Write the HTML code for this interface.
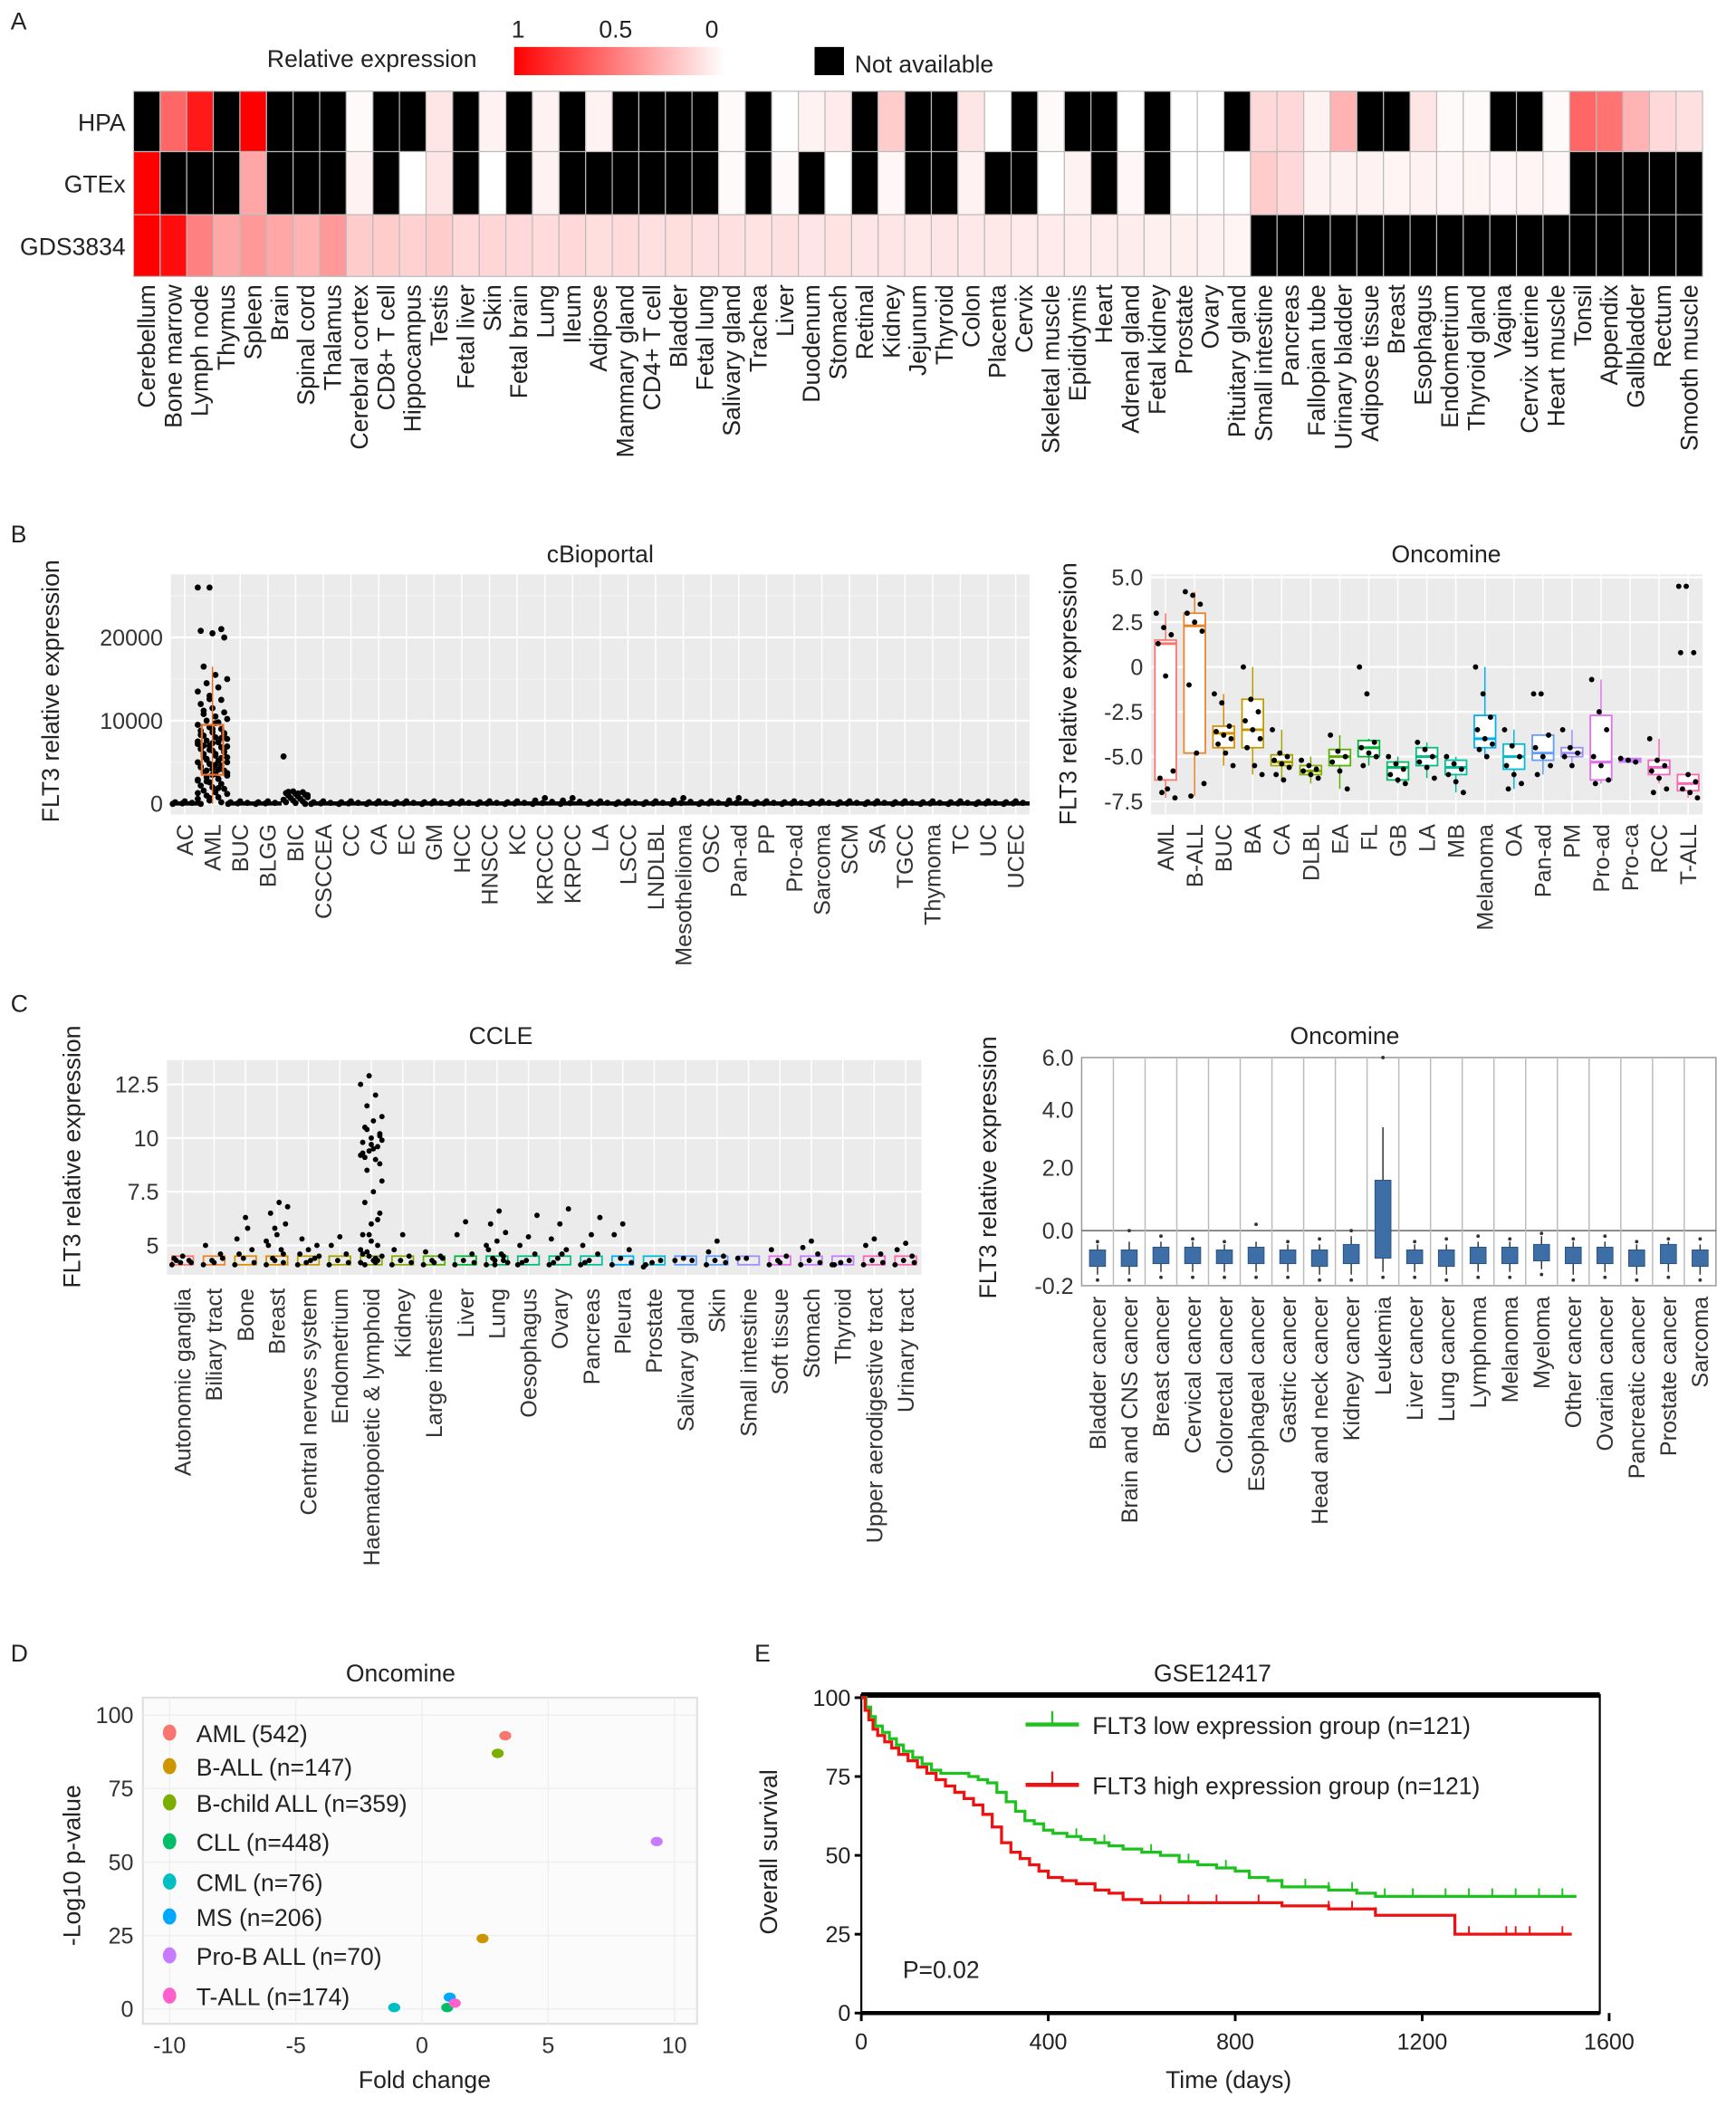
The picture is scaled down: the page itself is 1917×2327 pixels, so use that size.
<!DOCTYPE html>
<html><head><meta charset="utf-8"><style>
html,body{margin:0;padding:0;background:#fff;}
svg{display:block;font-family:"Liberation Sans",Arial,sans-serif;}
</style></head><body>
<svg id="fig" xmlns="http://www.w3.org/2000/svg" width="1917" height="2327" viewBox="0 0 1300 1570" preserveAspectRatio="none">
<defs><linearGradient id="grad" x1="0" x2="1" y1="0" y2="0"><stop offset="0" stop-color="#ff0000"/><stop offset="1" stop-color="#ffffff"/></linearGradient></defs>
<g font-size="18" fill="#222">
<text x="8" y="22">A</text>
<text x="8" y="404">B</text>
<text x="8" y="754">C</text>
<text x="8" y="1238">D</text>
<text x="565" y="1238">E</text>
</g>
<g font-size="18" fill="#222">
<text x="200" y="50">Relative expression</text>
<rect x="385" y="35" width="158" height="21" fill="url(#grad)"/>
<text x="388" y="28" text-anchor="middle">1</text>
<text x="461" y="28" text-anchor="middle">0.5</text>
<text x="533" y="28" text-anchor="middle">0</text>
<rect x="610" y="35" width="22" height="21" fill="#000"/>
<text x="640" y="54">Not available</text>
</g>
<g id="pA"></g><g id="pB1"></g><g id="pB2"></g><g id="pC1"></g><g id="pC2"></g><g id="pD"></g><g id="pE"></g>
</svg>
<script>
// ---------- Panel A data ----------
const tissues=["Cerebellum","Bone marrow","Lymph node","Thymus","Spleen","Brain","Spinal cord","Thalamus","Cerebral cortex","CD8+ T cell","Hippocampus","Testis","Fetal liver","Skin","Fetal brain","Lung","Ileum","Adipose","Mammary gland","CD4+ T cell","Bladder","Fetal lung","Salivary gland","Trachea","Liver","Duodenum","Stomach","Retinal","Kidney","Jejunum","Thyroid","Colon","Placenta","Cervix","Skeletal muscle","Epididymis","Heart","Adrenal gland","Fetal kidney","Prostate","Ovary","Pituitary gland","Small intestine","Pancreas","Fallopian tube","Urinary bladder","Adipose tissue","Breast","Esophagus","Endometrium","Thyroid gland","Vagina","Cervix uterine","Heart muscle","Tonsil","Appendix","Gallbladder","Rectum","Smooth muscle"];
const rowNames=["HPA","GTEx","GDS3834"];
const N=null;
const hpaVals=[N,0.6,0.9,N,1,N,N,N,0.02,N,N,0.1,N,0.05,N,0.05,N,0.05,N,N,N,N,0.02,N,0,0.05,0.08,N,0.2,N,N,0.1,0,N,0.02,N,N,0,N,0,0,N,0.15,0.15,0.05,0.3,N,N,0.1,0.02,0.02,N,N,0.02,0.6,0.55,0.3,0.15,0.12];
const gtexVals=[1,N,N,N,0.35,N,N,N,0.05,N,0,0.1,N,0,N,0.05,N,N,N,N,N,N,0.02,N,0.02,N,0,N,0.03,N,N,0.05,N,N,0,0.05,N,0.03,N,0,0,0,0.2,0.15,0.05,0.05,0.05,0.04,0.05,0.03,0.04,0.03,0.04,0.03,N,N,N,N,N];
const gdsVals=[1,0.95,0.5,0.35,0.4,0.35,0.3,0.4,0.2,0.2,0.18,0.2,0.15,0.16,0.15,0.14,0.15,0.13,0.14,0.12,0.13,0.12,0.12,0.11,0.12,0.1,0.11,0.1,0.1,0.09,0.1,0.09,0.09,0.08,0.08,0.07,0.07,0.07,0.06,0.06,0.05,0.04,N,N,N,N,N,N,N,N,N,N,N,N,N,N,N,N,N];
// ---------- Panel B left (cBioportal) ----------
const cbioCats=["AC","AML","BUC","BLGG","BIC","CSCCEA","CC","CA","EC","GM","HCC","HNSCC","KC","KRCCC","KRPCC","LA","LSCC","LNDLBL","Mesothelioma","OSC","Pan-ad","PP","Pro-ad","Sarcoma","SCM","SA","TGCC","Thymoma","TC","UC","UCEC"];
const cbioTicks=[0,10000,20000];
const cbioAML=[26000,26000,21000,20800,20500,20000,16500,15500,15000,14500,14000,13500,13000,12500,12000,11500,11000,10800,10500,10200,10000,9800,9500,9200,9000,8800,8600,8400,8200,8000,7800,7600,7400,7200,7000,6800,6600,6400,6200,6000,5800,5600,5400,5200,5000,4800,4600,4400,4200,4000,3800,3600,3400,3200,3000,2800,2600,2400,2200,2000,1800,1600,1400,1200,1000,800,600,400,200,0,9000,8000,7000,6000,5000,4000,3000,7500,6500,5500,4500,3500,8500,11200,9700,6900,5300,4100,2900,12600,7900,8300,7300,6300,5700,4700,3700,2700,1900,1300,700];
const cbioBIC=[5700,1500,1400,1300,1200,1100,1000,900,800,700,600,500,400,300,200,100,0,1450,1250,1050];
const cbioOther=[0,60,120,200,300];
const cbioOtherHigh=[0,100,250,400,700];
// ---------- Panel B right (Oncomine) ----------
const oncBCats=["AML","B-ALL","BUC","BA","CA","DLBL","EA","FL","GB","LA","MB","Melanoma","OA","Pan-ad","PM","Pro-ad","Pro-ca","RCC","T-ALL"];
const oncBTicks=[5.0,2.5,0,-2.5,-5.0,-7.5];
const oncBQ1=[-6.3,-4.8,-4.5,-4.5,-5.5,-6.0,-5.5,-5.0,-6.3,-5.5,-6.0,-4.5,-5.7,-5.2,-5.0,-6.3,-5.3,-6.0,-6.9];
const oncBMed=[1.3,2.3,-3.7,-3.5,-5.3,-5.8,-5.0,-4.5,-5.6,-5.0,-5.6,-4.0,-5.0,-4.8,-4.8,-5.3,-5.2,-5.6,-6.5];
const oncBQ3=[1.5,3.0,-3.3,-1.8,-4.9,-5.5,-4.6,-4.1,-5.3,-4.5,-5.2,-2.7,-4.3,-3.8,-4.5,-2.7,-5.1,-5.2,-6.0];
const oncBLo=[-7.3,-7.2,-5.5,-6.0,-6.3,-6.5,-6.8,-5.5,-6.5,-6.2,-7.0,-5.0,-6.8,-6.0,-5.5,-6.5,-5.3,-6.5,-7.3];
const oncBHi=[3.0,4.2,-1.5,0,-3.5,-5.0,-3.8,-4.0,-5.0,-4.2,-5.0,0,-3.5,-3.8,-3.5,-0.7,-5.1,-4.0,-6.0];
const oncBPts=[[3.0,2.2,1.8,1.3,-0.5,-5.8,-6.2,-6.8,-7.3,-7.0],[4.2,4.0,3.5,3.0,2.5,2.0,-1.0,-4.8,-6.5,-7.2],[-1.5,-2.0,-3.3,-3.6,-3.8,-4.0,-4.3,-4.8,-5.5],[0,-1.8,-2.5,-3.0,-3.5,-4.0,-4.5,-5.5,-6.0],[-3.5,-4.8,-5.0,-5.2,-5.4,-5.6,-6.0,-6.3],[-5.2,-5.5,-5.7,-5.8,-6.0,-6.2],[-3.8,-4.7,-5.0,-5.3,-5.8,-6.8],[0,-1.5,-4.2,-4.5,-4.8,-5.0,-5.5],[-5.0,-5.4,-5.7,-6.0,-6.3,-6.5],[-4.2,-4.6,-5.0,-5.3,-5.6,-6.2],[-5.0,-5.4,-5.7,-6.0,-6.4,-7.0],[0,-1.5,-2.8,-3.5,-4.0,-4.3,-4.6,-5.0],[-3.5,-4.4,-5.0,-5.5,-6.0,-6.5,-6.8],[-1.5,-1.5,-3.8,-4.5,-5.0,-5.5,-6.0],[-3.5,-4.5,-4.8,-5.0,-5.5],[-0.7,-2.5,-3.5,-5.0,-5.5,-6.3,-6.5],[-5.1,-5.2,-5.3],[-4.0,-5.2,-5.5,-5.8,-6.2,-6.8,-7.0],[4.5,4.5,0.8,0.8,-6.0,-6.4,-6.8,-7.0,-7.3]];
const hueColors=["#F8766D","#E98429","#D89000","#C29A00","#A7A300","#85AD00","#55B300","#00B838","#00BC63","#00BE83","#00C0A0","#00B0F6","#00BCD3","#619CFF","#9F8CFF","#E46EF3","#C77CFF","#F265C0","#FF65AC"];
// ---------- Panel C left (CCLE) ----------
const ccleCats=["Autonomic  ganglia","Biliary tract","Bone","Breast","Central nerves system","Endometrium","Haematopoietic & lymphoid","Kidney","Large intestine","Liver","Lung","Oesophagus","Ovary","Pancreas","Pleura","Prostate","Salivary gland","Skin","Small intestine","Soft tissue","Stomach","Thyroid","Upper aerodigestive tract","Urinary tract"];
const ccleTicks=[5,7.5,10,12.5];
const cclePts=[[4.1,4.2,4.3,4.4,4.5,4.2,4.3],[4.1,4.3,4.6,5.0,4.2,4.4],[4.1,4.4,4.8,5.3,6.3,4.2,4.6,5.8],[4.1,4.3,4.6,5.0,5.5,6.0,6.5,7.0,6.8,4.4,4.8,5.2,5.8,4.2],[4.1,4.2,4.4,4.6,4.8,5.0,5.3,4.3,4.5],[4.1,4.3,4.6,5.0,5.4,4.2],[4.2,4.5,5.0,5.5,6.0,6.5,7.0,7.5,8.0,8.5,9.0,9.2,9.4,9.6,9.8,10.0,10.2,10.5,10.8,11.0,11.5,12.0,12.5,12.9,4.3,4.6,5.2,8.8,9.1,9.5,9.9,10.4,4.4,4.8,5.5,6.2,9.3,9.7,10.1,4.1,4.3,4.5,4.7,4.2],[4.1,4.3,4.5,4.8,5.5,4.2],[4.1,4.3,4.5,4.7,4.2,4.4],[4.1,4.3,4.6,5.5,6.1,4.2],[4.1,4.3,4.5,4.8,5.2,5.6,6.0,6.6,4.2,4.4,4.6,5.0,4.1,4.3],[4.1,4.3,4.6,5.0,5.4,6.4,4.2],[4.1,4.4,4.8,5.3,6.0,6.7,4.2,4.6],[4.1,4.3,4.6,5.0,5.5,6.3,4.2],[4.1,4.4,4.8,5.5,6.0,4.2],[4.0,4.2,4.3,4.1],[4.3,4.4,4.3],[4.1,4.3,4.5,4.7,5.2,4.2],[4.4,4.4],[4.1,4.3,4.5,4.8,4.2],[4.1,4.3,4.6,4.9,5.2,4.2],[4.1,4.2,4.3,4.1],[4.1,4.3,4.6,5.0,5.3,4.2],[4.1,4.3,4.5,4.8,5.1,4.2]];
// ---------- Panel C right (Oncomine) ----------
const oncCCats=["Bladder cancer","Brain and CNS cancer","Breast cancer","Cervical cancer","Colorectal cancer","Esophageal cancer","Gastric cancer","Head and neck cancer","Kidney cancer","Leukemia","Liver cancer","Lung cancer","Lymphoma","Melanoma","Myeloma","Other cancer","Ovarian cancer","Pancreatic cancer","Prostate cancer","Sarcoma"];
const oncCTicks=[6.0,4.0,2.0,0.0,-0.2];
const oncCQ1=[-0.13,-0.13,-0.12,-0.12,-0.12,-0.12,-0.12,-0.13,-0.12,-0.1,-0.12,-0.13,-0.12,-0.12,-0.11,-0.12,-0.12,-0.13,-0.12,-0.13];
const oncCMed=[-0.1,-0.1,-0.09,-0.09,-0.09,-0.09,-0.1,-0.1,-0.09,0.3,-0.1,-0.1,-0.09,-0.09,-0.08,-0.09,-0.09,-0.1,-0.09,-0.1];
const oncCQ3=[-0.07,-0.07,-0.06,-0.06,-0.07,-0.06,-0.07,-0.07,-0.05,1.6,-0.07,-0.07,-0.06,-0.06,-0.05,-0.06,-0.06,-0.07,-0.05,-0.07];
const oncCLo=[-0.16,-0.16,-0.15,-0.15,-0.15,-0.15,-0.15,-0.16,-0.16,-0.15,-0.15,-0.16,-0.15,-0.15,-0.14,-0.16,-0.15,-0.16,-0.15,-0.16];
const oncCHi=[-0.05,-0.04,-0.04,-0.04,-0.05,-0.04,-0.05,-0.05,-0.02,3.4,-0.05,-0.05,-0.04,-0.04,-0.02,-0.04,-0.04,-0.05,-0.04,-0.05];
const oncCMax=[-0.04,0.0,-0.02,-0.03,-0.04,0.2,-0.04,-0.03,0.0,6.0,-0.04,-0.03,-0.02,-0.03,-0.01,-0.03,-0.02,-0.04,-0.03,-0.03];
// ---------- Panel D ----------
const dNames=["AML (542)","B-ALL (n=147)","B-child ALL (n=359)","CLL (n=448)","CML (n=76)","MS (n=206)","Pro-B ALL (n=70)","T-ALL (n=174)"];
const dFold=[3.3,2.4,3.0,1.0,-1.1,1.1,9.3,1.3];
const dLogP=[93,24,87,0.5,0.5,4,57,2];
const dColors=["#F8766D","#CD9600","#7CAE00","#00BE67","#00BFC4","#00A9FF","#C77CFF","#FF61CC"];
const dXTicks=[-10,-5,0,5,10];
const dYTicks=[0,25,50,75,100];
// ---------- Panel E ----------
const lowT=[0,10,20,30,45,60,75,90,110,130,150,170,200,230,250,270,290,310,330,350,370,390,410,440,470,500,530,560,600,640,680,720,760,800,830,870,900,960,1000,1060,1100,1530];
const lowS=[100,97,94,91,89,87,85,83,81,79,77,76,76,75,74,73,70,67,64,61,60,58,57,56,55,54,53,52,51,50,48,47,46,45,43,42,40,40,39,38,37,37];
const highT=[0,8,16,25,35,50,65,80,100,120,140,160,180,200,220,240,260,280,300,320,340,360,380,400,430,460,500,530,560,600,700,800,900,1000,1100,1270,1520];
const highS=[100,96,93,90,88,86,84,82,80,78,76,74,72,70,68,66,63,59,54,51,49,47,45,43,42,41,39,38,36,35,35,35,34,33,31,25,25];
const lowCens=[460,520,620,700,780,900,950,1000,1050,1120,1180,1250,1300,1350,1400,1450,1500];
const highCens=[560,640,700,760,850,1000,1050,1100,1300,1380,1400,1430,1500];
const eXTicks=[0,400,800,1200,1600];
const eYTicks=[0,25,50,75,100];

const NS="http://www.w3.org/2000/svg";
function mk(parent,tag,attrs,txt){const e=document.createElementNS(NS,tag);for(const k in attrs)e.setAttribute(k,attrs[k]);if(txt!==undefined)e.textContent=txt;document.getElementById(parent).appendChild(e);return e;}
function lin(d0,d1,r0,r1){return v=>r0+(v-d0)/(d1-d0)*(r1-r0);}
function jit(i,w){return ((i*37)%11-5)/5*w;}

// ===== Panel A =====
(function(){
const x0=100,x1=1275,rowY=[68,113,160,206];const cw=(x1-x0)/tissues.length;
const rows=[hpaVals,gtexVals,gdsVals];
rows.forEach((vals,r)=>{
 vals.forEach((v,i)=>{
  const c=v===null?"#000":`rgb(255,${Math.round(255*(1-v))},${Math.round(255*(1-v))})`;
  const el=mk("pA","rect",{x:x0+i*cw,y:rowY[r],width:cw,height:rowY[r+1]-rowY[r],fill:c,stroke:"#bbb","stroke-width":0.8});
  
  
 });
 const t=mk("pA","text",{x:94,y:(rowY[r]+rowY[r+1])/2+7,"text-anchor":"end","font-size":18,fill:"#222"},rowNames[r]);
 
 
});
tissues.forEach((n,i)=>{
 const cx=x0+(i+0.5)*cw+6;
 const t=mk("pA","text",{x:cx,y:212,transform:`rotate(-90 ${cx} 212)`,"text-anchor":"end","font-size":18,fill:"#222"},n);
 
 
});
})();

// ===== Panel B left =====
(function(){
const L=128,R=771,T=428,B=607;
const y=lin(0,10000,599,537);
const bw=(R-L)/cbioCats.length;
const bg=mk("pB1","rect",{x:L,y:T,width:R-L,height:B-T,fill:"#ebebeb"});


[5000,15000,25000].forEach(v=>{const g=mk("pB1","line",{x1:L,x2:R,y1:y(v),y2:y(v),stroke:"#f4f4f4","stroke-width":0.8});});
cbioTicks.forEach(v=>{
 const g=mk("pB1","line",{x1:L,x2:R,y1:y(v),y2:y(v),stroke:"#fff","stroke-width":1.5});
 
 
 const t=mk("pB1","text",{x:L-6,y:y(v)+6,"text-anchor":"end","font-size":17,fill:"#333"},v);
 
 
});
cbioCats.forEach((c,i)=>{
 const cx=L+(i+0.5)*bw;
 const g=mk("pB1","line",{x1:cx,x2:cx,y1:T,y2:B,stroke:"#fff","stroke-width":1});
 
 
 const vals=c==="AML"?cbioAML:c==="BIC"?cbioBIC:(["KRCCC","KRPCC","Mesothelioma","Pan-ad"].includes(c)?cbioOtherHigh:cbioOther);
 const w=c==="AML"?11:9;
 vals.forEach((v,k)=>{
  const p=mk("pB1","circle",{cx:cx+jit(k,w),cy:y(v),r:2.3,fill:"#000"});
  
  
 });
 if(c!=="AML"&&c!=="BIC"){const band=mk("pB1","rect",{x:cx-bw/2,y:y(300),width:bw,height:y(-200)-y(300),fill:"#000"});}
 const t=mk("pB1","text",{x:cx+6,y:614,transform:`rotate(-90 ${cx+6} 614)`,"text-anchor":"end","font-size":17,fill:"#333"},c);
 
 
});
const ia=cbioCats.indexOf("AML"),ax=L+(ia+0.5)*bw;
const ob=mk("pB1","rect",{x:ax-8,y:y(9500),width:16,height:y(3500)-y(9500),fill:"none",stroke:"#E8702A","stroke-width":1.5});


const ow=mk("pB1","line",{x1:ax,x2:ax,y1:y(16500),y2:y(0),stroke:"#E8702A","stroke-width":1});


const tt=mk("pB1","text",{x:(L+R)/2,y:419,"text-anchor":"middle","font-size":18,fill:"#222"},"cBioportal");


const yl=mk("pB1","text",{x:44,y:515,transform:"rotate(-90 44 515)","text-anchor":"middle","font-size":18,fill:"#222"},"FLT3 relative expression");


})();

// ===== Panel B right =====
(function(){
const L=862,R=1275,T=428,B=607;
const y=lin(0,2.5,497,463.6);
const bw=(R-L)/oncBCats.length;
const bg=mk("pB2","rect",{x:L,y:T,width:R-L,height:B-T,fill:"#ebebeb"});


oncBTicks.forEach(v=>{
 const g=mk("pB2","line",{x1:L,x2:R,y1:y(v),y2:y(v),stroke:"#fff","stroke-width":1.5});
 
 
 const t=mk("pB2","text",{x:L-6,y:y(v)+6,"text-anchor":"end","font-size":17,fill:"#333"},v.toFixed(v===0?0:1));
 
 
});
oncBCats.forEach((c,i)=>{
 const cx=L+(i+0.5)*bw,col=hueColors[i];
 const g=mk("pB2","line",{x1:cx,x2:cx,y1:T,y2:B,stroke:"#fff","stroke-width":1});
 
 
 const wk=mk("pB2","line",{x1:cx,x2:cx,y1:y(oncBHi[i]),y2:y(oncBLo[i]),stroke:col,"stroke-width":1});
 
 
 const bx=mk("pB2","rect",{x:cx-8,y:y(oncBQ3[i]),width:16,height:y(oncBQ1[i])-y(oncBQ3[i]),fill:"#fff",stroke:col,"stroke-width":1.2});
 
 
 const md=mk("pB2","line",{x1:cx-8,x2:cx+8,y1:y(oncBMed[i]),y2:y(oncBMed[i]),stroke:col,"stroke-width":2});
 
 
 oncBPts[i].forEach((v,k)=>{
  const p=mk("pB2","circle",{cx:cx+jit(k,7),cy:y(v),r:2,fill:"#000"});
  
  
 });
 const t=mk("pB2","text",{x:cx+6,y:614,transform:`rotate(-90 ${cx+6} 614)`,"text-anchor":"end","font-size":17,fill:"#333"},c);
 
 
});
const tt=mk("pB2","text",{x:1083,y:419,"text-anchor":"middle","font-size":18,fill:"#222"},"Oncomine");


const yl=mk("pB2","text",{x:806,y:517,transform:"rotate(-90 806 517)","text-anchor":"middle","font-size":18,fill:"#222"},"FLT3 relative expression");


})();

// ===== Panel C left =====
(function(){
const L=125,R=690,T=790,B=950;
const y=lin(5,7.5,928,888);
const bw=(R-L)/ccleCats.length;
const bg=mk("pC1","rect",{x:L,y:T,width:R-L,height:B-T,fill:"#ebebeb"});


ccleTicks.forEach(v=>{
 const g=mk("pC1","line",{x1:L,x2:R,y1:y(v),y2:y(v),stroke:"#fff","stroke-width":1.5});
 
 
 const t=mk("pC1","text",{x:L-6,y:y(v)+6,"text-anchor":"end","font-size":17,fill:"#333"},v);
 
 
});
ccleCats.forEach((c,i)=>{
 const cx=L+(i+0.5)*bw;
 const g=mk("pC1","line",{x1:cx,x2:cx,y1:T,y2:B,stroke:"#fff","stroke-width":1});
 
 
 const m=mk("pC1","rect",{x:cx-8,y:y(4.5),width:16,height:y(4.1)-y(4.5),fill:"none",stroke:hueColors[Math.round(i*18/23)],"stroke-width":1.2});
 
 
 cclePts[i].forEach((v,k)=>{
  const p=mk("pC1","circle",{cx:cx+jit(k,8),cy:y(v),r:2,fill:"#000"});
  
  
 });
 const t=mk("pC1","text",{x:cx+6,y:960,transform:`rotate(-90 ${cx+6} 960)`,"text-anchor":"end","font-size":17,fill:"#333"},c);
 
 
});
const tt=mk("pC1","text",{x:375,y:778,"text-anchor":"middle","font-size":18,fill:"#222"},"CCLE");


const yl=mk("pC1","text",{x:60,y:862,transform:"rotate(-90 60 862)","text-anchor":"middle","font-size":18,fill:"#222"},"FLT3 relative expression");


})();

// ===== Panel C right =====
(function(){
const L=810,R=1285,T=788,B=958;
const tickPix=[788,827,870,917,958];
function y(v){for(let k=0;k<oncCTicks.length-1;k++){const a=oncCTicks[k],b=oncCTicks[k+1];if(v<=a&&v>=b||k===oncCTicks.length-2)return tickPix[k]+(v-a)/(b-a)*(tickPix[k+1]-tickPix[k]);}return tickPix[0];}
const bw=(R-L)/oncCCats.length;
const bg=mk("pC2","rect",{x:L,y:T,width:R-L,height:B-T,fill:"#fff",stroke:"#999","stroke-width":1});


const z=mk("pC2","line",{x1:L,x2:R,y1:y(0),y2:y(0),stroke:"#666","stroke-width":1});


oncCTicks.forEach(v=>{
 const t=mk("pC2","text",{x:L-6,y:y(v)+6,"text-anchor":"end","font-size":17,fill:"#333"},v.toFixed(1));
 
 
});
oncCCats.forEach((c,i)=>{
 const cx=L+(i+0.5)*bw;
 if(i>0){const g=mk("pC2","line",{x1:L+i*bw,x2:L+i*bw,y1:T,y2:B,stroke:"#bbb","stroke-width":1});}
 const wk=mk("pC2","line",{x1:cx,x2:cx,y1:y(oncCHi[i]),y2:y(oncCLo[i]),stroke:"#333","stroke-width":1});
 
 
 const bx=mk("pC2","rect",{x:cx-6,y:y(oncCQ3[i]),width:12,height:Math.max(3,y(oncCQ1[i])-y(oncCQ3[i])),fill:"#3D6FA6",stroke:"#2a4f7a","stroke-width":0.6});
 
 
 const mx=mk("pC2","circle",{cx:cx,cy:y(oncCMax[i]),r:1.3,fill:"#333"});
 
 
 const mn=mk("pC2","circle",{cx:cx,cy:y(oncCLo[i])+4,r:1.3,fill:"#333"});
 
 
 const t=mk("pC2","text",{x:cx+6,y:966,transform:`rotate(-90 ${cx+6} 966)`,"text-anchor":"end","font-size":17,fill:"#333"},c);
 
 
});
const tt=mk("pC2","text",{x:1007,y:778,"text-anchor":"middle","font-size":18,fill:"#222"},"Oncomine");


const yl=mk("pC2","text",{x:746,y:870,transform:"rotate(-90 746 870)","text-anchor":"middle","font-size":18,fill:"#222"},"FLT3 relative expression");


})();

// ===== Panel D =====
(function(){
const L=107,R=522,T=1265,B=1508;
const x=lin(-10,10,127,505),y=lin(0,100,1497,1278);
const bg=mk("pD","rect",{x:L,y:T,width:R-L,height:B-T,fill:"#fbfbfb",stroke:"#e0e0e0","stroke-width":1.5});


dYTicks.forEach(v=>{
 const g=mk("pD","line",{x1:L,x2:R,y1:y(v),y2:y(v),stroke:"#efefef","stroke-width":1});
 
 
 const t=mk("pD","text",{x:L-7,y:y(v)+6,"text-anchor":"end","font-size":17,fill:"#333"},v);
 
 
});
dXTicks.forEach(v=>{
 const g=mk("pD","line",{x1:x(v),x2:x(v),y1:T,y2:B,stroke:"#efefef","stroke-width":1});
 
 
 const t=mk("pD","text",{x:x(v),y:B+22,"text-anchor":"middle","font-size":17,fill:"#333"},v);
 
 
});
const legY=[1291,1316,1343,1372,1402,1428,1457,1487];
dNames.forEach((n,i)=>{
 const p=mk("pD","ellipse",{cx:x(dFold[i]),cy:y(dLogP[i]),rx:4.5,ry:3.5,fill:dColors[i]});
 
 
 const ld=mk("pD","ellipse",{cx:127,cy:legY[i],rx:5,ry:6,fill:dColors[i]});
 
 
 const lt=mk("pD","text",{x:147,y:legY[i]+7,"font-size":18,fill:"#222"},n);
 
 
});
const tt=mk("pD","text",{x:300,y:1253,"text-anchor":"middle","font-size":18,fill:"#222"},"Oncomine");


const xl=mk("pD","text",{x:318,y:1556,"text-anchor":"middle","font-size":18,fill:"#222"},"Fold change");


const yl=mk("pD","text",{x:60,y:1390,transform:"rotate(-90 60 1390)","text-anchor":"middle","font-size":18,fill:"#222"},"-Log10 p-value");


})();

// ===== Panel E =====
(function(){
const L=645,R=1198,T=1263,B=1500;
const x=lin(0,1600,645,1205),y=lin(0,100,1500,1265);
const bx=mk("pE","rect",{x:L,y:T,width:R-L,height:B-T,fill:"#fff",stroke:"#000","stroke-width":1.5});


const tb=mk("pE","line",{x1:L,x2:R,y1:T,y2:T,stroke:"#000","stroke-width":4});


const bb=mk("pE","line",{x1:L,x2:R,y1:B,y2:B,stroke:"#000","stroke-width":3});


eYTicks.forEach(v=>{
 const tk=mk("pE","line",{x1:L-5,x2:L,y1:y(v),y2:y(v),stroke:"#000","stroke-width":2});
 
 
 const t=mk("pE","text",{x:L-8,y:y(v)+6,"text-anchor":"end","font-size":17,fill:"#222"},v);
 
 
});
eXTicks.forEach(v=>{
 const tk=mk("pE","line",{x1:x(v),x2:x(v),y1:B,y2:B+6,stroke:"#000","stroke-width":2});
 
 
 const t=mk("pE","text",{x:x(v),y:B+27,"text-anchor":"middle","font-size":17,fill:"#222"},v);
 
 
});
function km(ts,ss,cens,col,name){
 let d=`M${x(ts[0])},${y(ss[0])}`;
 for(let k=1;k<ts.length;k++){d+=`H${x(ts[k])}V${y(ss[k])}`;}
 const p=mk("pE","path",{d:d,fill:"none",stroke:col,"stroke-width":2.2});
 
 
 cens.forEach(t=>{let s=ss[0];for(let k=0;k<ts.length;k++){if(ts[k]<=t)s=ss[k];}
  const c=mk("pE","line",{x1:x(t),x2:x(t),y1:y(s)-6,y2:y(s),stroke:col,"stroke-width":1.3});
  
  
 });
}
km(lowT,lowS,lowCens,"#1ec21e","low-expression-curve");
km(highT,highS,highCens,"#ee1111","high-expression-curve");
[[1285,"#1ec21e","FLT3 low expression group (n=121)"],[1330,"#ee1111","FLT3 high expression group (n=121)"]].forEach(e=>{
 const l=mk("pE","line",{x1:768,x2:808,y1:e[0],y2:e[0],stroke:e[1],"stroke-width":3});
 
 
 const lv=mk("pE","line",{x1:788,x2:788,y1:e[0]-10,y2:e[0],stroke:e[1],"stroke-width":1.5});
 
 
 const t=mk("pE","text",{x:818,y:e[0]+7,"font-size":18,fill:"#222"},e[2]);
 
 
});
const pv=mk("pE","text",{x:676,y:1474,"font-size":18,fill:"#222"},"P=0.02");


const tt=mk("pE","text",{x:908,y:1253,"text-anchor":"middle","font-size":18,fill:"#222"},"GSE12417");


const xl=mk("pE","text",{x:920,y:1556,"text-anchor":"middle","font-size":18,fill:"#222"},"Time (days)");


const yl=mk("pE","text",{x:582,y:1380,transform:"rotate(-90 582 1380)","text-anchor":"middle","font-size":18,fill:"#222"},"Overall survival");


})();
</script>
</body></html>
